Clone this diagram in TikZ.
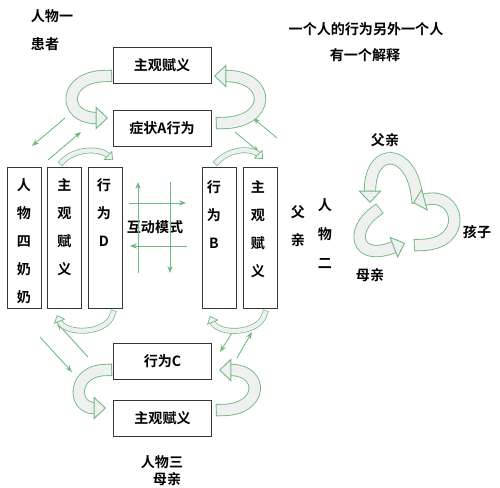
\documentclass[tikz,border=0pt]{standalone}
\usepackage{fontspec}
\setmainfont{Noto Sans CJK SC}[BoldFont={Noto Sans CJK SC Bold}]
\usetikzlibrary{arrows.meta}
\definecolor{linegreen}{RGB}{112,184,128}
\definecolor{tubegray}{RGB}{238,241,240}
\definecolor{boxgray}{RGB}{55,55,55}

\begin{document}
\begin{tikzpicture}[
        x=0.02cm, y=-0.02cm,
        wide/.style={rectangle, draw=boxgray, line width=0.5pt, minimum width=1.96cm, minimum height=0.72cm, inner sep=0pt, font=\fontsize{8}{10}\selectfont\bfseries},
        column/.style={rectangle, draw=boxgray, line width=0.5pt, minimum width=0.68cm, minimum height=2.82cm, inner sep=0pt},
        vtext/.style={align=center, inner sep=0pt, anchor=north, font=\fontsize{8}{15.9}\selectfont\bfseries},
        word/.style={inner sep=0pt, font=\fontsize{8}{10}\selectfont\bfseries},
        thin/.style={draw=linegreen, line width=0.5pt, -{Stealth[length=4pt,width=3pt]}},
        tube/.style={draw=linegreen, line width=0.5pt, line cap=rect, double=tubegray, double distance=6pt, -{Triangle[length=7pt,width=13pt,fill=tubegray,line width=0.5pt]}},
        swoop/.style={draw=linegreen, line width=0.4pt, line cap=rect, double=tubegray, double distance=2.5pt, -{Triangle[length=4pt,width=7pt,fill=tubegray,line width=0.4pt]}}
    ]
    \useasboundingbox (0,0) rectangle (500,487);

    \node[word] (one) at (52,16) {人物一};
    \node[word] (patient) at (45,44) {患者};
    \node[word] (note1) at (366,29) {一个人的行为另外一个人};
    \node[word] (note2) at (365,55) {有一个解释};

    \node[wide] (meaningA) at (162,65) {主观赋义};
    \node[wide] (symptom) at (162,128.5) {症状A行为};
    \node[wide] (actC) at (162.5,361) {行为C};
    \node[wide] (meaningC) at (162.5,418) {主观赋义};

    \node[column] (grandma) at (24,237.5) {};
    \node[column] (meaningD) at (64.5,237.5) {};
    \node[column] (actD) at (105.5,237.5) {};
    \node[column] (actB) at (219.5,238) {};
    \node[column] (meaningB) at (260.5,238) {};
    \node[vtext] (grandmatext) at (24,178) {人\\物\\四\\奶\\奶};
    \node[vtext] (meaningDtext) at (64.5,178) {主\\观\\赋\\义};
    \node[vtext] (actDtext) at (104,178) {行\\为\\D};
    \node[vtext] (actBtext) at (214,180) {行\\为\\B};
    \node[vtext] (meaningBtext) at (258,180) {主\\观\\赋\\义};

    \node[word] (mode) at (155,227) {互动模式};
    \node[vtext, anchor=center] (father) at (298,226) {父\\亲};
    \node[vtext, anchor=center, font=\fontsize{8}{16.5}\selectfont\bfseries] (two) at (325,234) {人\\物\\二};
    \node[word] (three) at (162,462) {人物三};
    \node[word] (mother) at (167,479) {母亲};

    \node[word] (dad) at (385,140) {父亲};
    \node[word] (kid) at (477,232) {孩子};
    \node[word] (mom) at (370,275) {母亲};

    \coordinate (upS) at (138,273);
    \coordinate (upE) at (138,182);
    \coordinate (downS) at (170,182);
    \coordinate (downE) at (170,273);
    \coordinate (rightS) at (129,203);
    \coordinate (rightE) at (186,203);
    \coordinate (leftS) at (187,246);
    \coordinate (leftE) at (130,246);
    \draw[thin] (upS) -- (upE);
    \draw[thin] (downS) -- (downE);
    \draw[thin] (rightS) -- (rightE);
    \draw[thin] (leftS) -- (leftE);

    \coordinate (tl1S) at (65,118);
    \coordinate (tl1E) at (32,146);
    \coordinate (tl2S) at (48,160);
    \coordinate (tl2E) at (81,132);
    \coordinate (tr1S) at (277,138);
    \coordinate (tr1E) at (253,118);
    \coordinate (tr2S) at (235,132);
    \coordinate (tr2E) at (259,152);
    \coordinate (bl1S) at (40,337);
    \coordinate (bl1E) at (72,372);
    \coordinate (bl2S) at (88,357);
    \coordinate (bl2E) at (57,323);
    \coordinate (br1S) at (232,333);
    \coordinate (br1E) at (220,352);
    \coordinate (br2S) at (237,358);
    \coordinate (br2E) at (252,332);
    \draw[thin] (tl1S) -- (tl1E);
    \draw[thin] (tl2S) -- (tl2E);
    \draw[thin] (tr1S) -- (tr1E);
    \draw[thin] (tr2S) -- (tr2E);
    \draw[thin] (bl1S) -- (bl1E);
    \draw[thin] (bl2S) -- (bl2E);
    \draw[thin] (br1S) -- (br1E);
    \draw[thin] (br2S) -- (br2E);

    \coordinate (tlA) at (106,76);
    \coordinate (tlB) at (108,118);
    \coordinate (trA) at (222,123);
    \coordinate (trB) at (214,76);
    \coordinate (blA) at (106,370);
    \coordinate (blB) at (106,408);
    \coordinate (brA) at (222,410);
    \coordinate (brB) at (219,370);
    \draw[tube] (tlA) .. controls (62,76) and (62,118) .. (tlB);
    \draw[tube] (trA) .. controls (272,123) and (272,76) .. (trB);
    \draw[tube] (blA) .. controls (72,370) and (72,408) .. (blB);
    \draw[tube] (brA) .. controls (264,410) and (264,370) .. (brB);

    \coordinate (s1A) at (62,162);
    \coordinate (s1B) at (113,160);
    \coordinate (s2A) at (217,162);
    \coordinate (s2B) at (263,159);
    \coordinate (s3A) at (113,313);
    \coordinate (s3B) at (57,315);
    \coordinate (s4A) at (265,313);
    \coordinate (s4B) at (210,316);
    \draw[swoop] (s1A) .. controls (75,148) and (100,148) .. (s1B);
    \draw[swoop] (s2A) .. controls (230,148) and (252,148) .. (s2B);
    \draw[swoop] (s3A) .. controls (108,335) and (65,335) .. (s3B);
    \draw[swoop] (s4A) .. controls (260,335) and (218,335) .. (s4B);

    \coordinate (c1A) at (417,197);
    \coordinate (c1B) at (370,203);
    \coordinate (c2A) at (420,245);
    \coordinate (c2B) at (413,203);
    \coordinate (c3A) at (375,212);
    \coordinate (c3B) at (405,243);
    \draw[tube] (c1A) .. controls (412,148) and (370,145) .. (c1B);
    \draw[tube] (c2A) .. controls (470,245) and (460,190) .. (c2B);
    \draw[tube] (c3A) .. controls (350,230) and (355,262) .. (c3B);

\end{tikzpicture}
\end{document}
